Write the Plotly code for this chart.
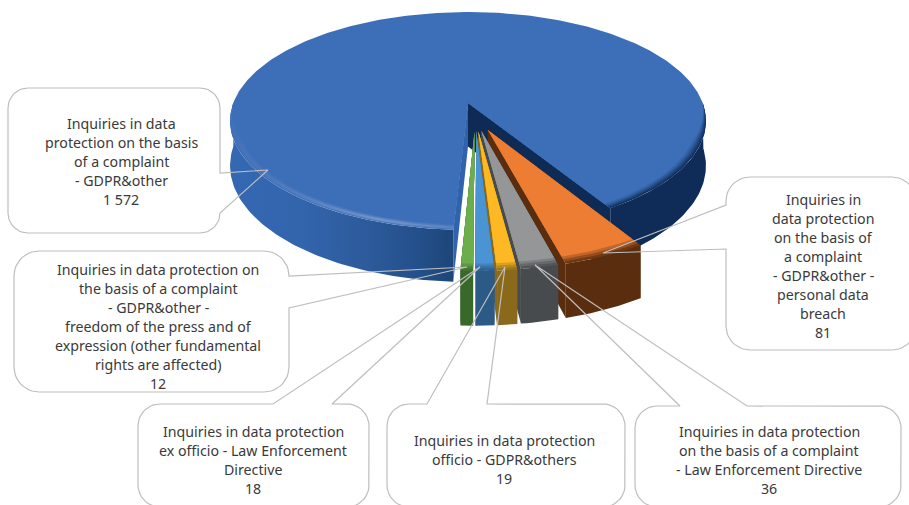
import numpy as np
import plotly.graph_objects as go

# Complaint and ex officio inquiries, smallest slices listed left to right
categories = [
    "freedom of the press and of expression",
    "ex officio - Law Enforcement Directive",
    "officio - GDPR&others",
    "complaint - Law Enforcement Directive",
    "complaint - GDPR&other - personal data breach",
    "complaint - GDPR&other",
]
values = [12, 18, 19, 36, 81, 1572]

label_lines = [
    ["Inquiries in data protection on", "the basis of a complaint", "- GDPR&other -",
     "freedom of the press and of", "expression (other fundamental", "rights are affected)", "12"],
    ["Inquiries in data protection", "ex officio - Law Enforcement", "Directive", "18"],
    ["Inquiries in data protection", "officio - GDPR&others", "19"],
    ["Inquiries in data protection", "on the basis of a complaint", "- Law Enforcement Directive", "36"],
    ["Inquiries in", "data protection", "on the basis of", "a complaint", "- GDPR&other -",
     "personal data", "breach", "81"],
    ["Inquiries in data", "protection on the basis", "of a complaint", "- GDPR&other", "1 572"],
]

top_colors = ["#6CAE4C", "#4B94D4", "#FDB924", "#949698", "#ED7D33"]
wall_colors = ["#39682B", "#2C5A86", "#8A6A1A", "#484B4D", "#5A2D0E"]
BIG_TOP = "#3C6FB8"

# Perspective projection of the pie plane onto the page
CX, CY, F, G, K = 468.0, 103.0, 234.7, 106.0, 0.165
DEPTH = 43.4
START_ANGLE = -3.0
EXPLODE = 0.258
FONT = "Noto Sans"
FONT_SIZE = 14.2
LINE_GAP = 19.0
LINE_COLOR = "#BEBEBE"


def project(x, y, drop=False):
    w = 1 - K * y
    px = CX + F * x / w
    py = CY + G * y / w
    if drop:
        py = py + DEPTH / w
    return px, py


def arc(a0, a1, radius=1.0, off=(0.0, 0.0), drop=False, step=1.0):
    n = max(2, int(abs(a1 - a0) / step) + 1)
    th = np.radians(np.linspace(a0, a1, n))
    r = radius(np.degrees(th)) if callable(radius) else radius
    return project(off[0] + r * np.sin(th), off[1] + r * np.cos(th), drop)


def mix(c1, c2, t):
    a = [int(c1[i:i + 2], 16) for i in (1, 3, 5)]
    b = [int(c2[i:i + 2], 16) for i in (1, 3, 5)]
    return "#%02X%02X%02X" % tuple(round(p + (q - p) * t) for p, q in zip(a, b))


fig = go.Figure()


def poly(xs, ys, color=None, gradient=None):
    kw = dict(fillgradient=gradient) if gradient else dict(fillcolor=color)
    fig.add_trace(go.Scatter(x=list(xs), y=list(ys), mode="lines", fill="toself",
                             line=dict(width=0), hoverinfo="skip", showlegend=False, **kw))


def hgrad(stops, x0=230.0, x1=710.0):
    scale = [[(x - x0) / (x1 - x0), c] for x, c in stops]
    return dict(type="horizontal", start=x0, stop=x1, colorscale=scale)


def sector(a0, a1, radius=1.0, off=(0.0, 0.0)):
    ax, ay = project(off[0], off[1])
    xs, ys = arc(a0, a1, radius, off)
    return np.r_[ax, xs, ax], np.r_[ay, ys, ay]


def wall(a0, a1, off=(0.0, 0.0)):
    xs, ys = arc(a0, a1, 1.0, off)
    xb, yb = arc(a0, a1, 1.0, off, drop=True)
    return np.r_[xs, xb[::-1]], np.r_[ys, yb[::-1]]


def radial(angle, off=(0.0, 0.0)):
    ax, ay = project(off[0], off[1])
    bx, by = project(off[0], off[1], drop=True)
    xs, ys = arc(angle, angle, 1.0, off)
    xb, yb = arc(angle, angle, 1.0, off, drop=True)
    return [ax, xs[0], xb[0], bx, ax], [ay, ys[0], yb[0], by, ay]


# Angular extent of every slice, clockwise from the front of the pie
total = sum(values)
spans = [v / total * 360 for v in values]
edges = START_ANGLE + np.r_[0, np.cumsum(spans)]
big_a0, big_a1 = edges[5], edges[6]

# Large slice: cut faces and outer wall
xs, ys = radial(big_a1)
poly(xs, ys, "#2F63AC")
xs, ys = radial(big_a0)
poly(xs, ys, "#0E2B55")

NAVY = "#0E2C57"
front_stops = [(230, "#3468B2"), (300, "#3365AD"), (370, "#2C5A9A"), (420, "#234F8A"),
               (453, "#1D4679"), (710, "#1D4679")]
xs, ys = wall(270, big_a1)
poly(xs, ys, gradient=hgrad(front_stops))
xs, ys = wall(big_a0, 90)
poly(xs, ys, NAVY)


def taper(th):
    t = np.where(th < 180, np.clip((90 - th) / 22, 0, 1), np.clip((th - 270) / 22, 0, 1))
    return t


RIM = 0.036


def big_radius(u):
    return lambda th: 1 - u * RIM * taper(th)


# Bevel along the rim of the large slice, brightest at the front left
glow = [(230, "#4471B8"), (300, "#5680C2"), (380, "#7898CC"), (453, "#5C84C0"), (710, "#5C84C0")]
left_weights = [0.25, 0.75, 1.0, 0.55, 0.2]
right_weights = [0.92, 0.72, 0.5, 0.3, 0.12]
n_rings = len(left_weights)
for i in range(n_rings):
    radius = big_radius(i / n_rings)
    stops = [(x, mix(BIG_TOP, c, left_weights[i])) for x, c in glow]
    xs, ys = sector(270, big_a1, radius)
    poly(xs, ys, gradient=hgrad(stops))
    xs, ys = sector(big_a0, 90, radius)
    poly(xs, ys, mix(BIG_TOP, NAVY, right_weights[i]))
xs, ys = sector(big_a0, big_a1, big_radius(1.0))
poly(xs, ys, BIG_TOP)

# Exploded slices, drawn from the rightmost towards the viewer's left
for i in [4, 3, 2, 1, 0]:
    a0, a1 = edges[i], edges[i + 1]
    mid = (a0 + a1) / 2
    direction = np.radians(6.8 + 0.5 * mid)
    off = (EXPLODE * np.sin(direction), EXPLODE * np.cos(direction))
    top, side = top_colors[i], wall_colors[i]
    for ang in (a1, a0):
        xs, ys = radial(ang, off)
        poly(xs, ys, side)
    xs, ys = wall(a0, a1, off)
    poly(xs, ys, side)
    for u, t in [(1.0, 0.85), (0.985, 0.6), (0.97, 0.3)]:
        xs, ys = sector(a0, a1, u, off)
        poly(xs, ys, mix(top, side, t))
    xs, ys = sector(a0, a1, 0.955, off)
    poly(xs, ys, top)

# Callout boxes: left, top, right, bottom, corner radius, pointer base, pointer tip
callouts = [
    dict(box=(14, 251, 289, 392), r=25, side="right", base=((289, 276), (289, 308)), tip=(467, 267),
         text=(158, 326)),
    dict(box=(138, 404, 369, 507), r=22, side="top", base=((273, 404), (332, 404)), tip=(480, 267),
         text=(253, 459.5)),
    dict(box=(387, 404, 625, 507), r=22, side="top", base=((427, 404), (487, 404)), tip=(505, 267),
         text=(504, 459)),
    dict(box=(635, 406, 901, 507), r=22, side="top", base=((680, 406), (747, 406)), tip=(535, 265),
         text=(769, 459.5)),
    dict(box=(726, 177, 916, 350), r=24, side="left", base=((726, 249), (726, 205)), tip=(603, 253),
         text=(823, 266)),
    dict(box=(8, 88, 220, 233), r=20, side="right", base=((220, 173), (220, 213)), tip=(268, 170),
         text=(121, 161.5)),
]


def corner(cx, cy, r, a0, a1):
    th = np.radians(np.linspace(a0, a1, 12))
    return list(cx + r * np.cos(th)), list(cy + r * np.sin(th))


for spec, lines in zip(callouts, label_lines):
    l, t, rgt, b = spec["box"]
    r = spec["r"]
    px, py = [spec["base"][0][0], spec["tip"][0], spec["base"][1][0]], \
             [spec["base"][0][1], spec["tip"][1], spec["base"][1][1]]
    xs, ys = [], []
    # Walk the outline clockwise, inserting the pointer on its side
    cx, cy = corner(l + r, t + r, r, 180, 270)
    xs += cx
    ys += cy
    if spec["side"] == "top":
        xs += px
        ys += py
    cx, cy = corner(rgt - r, t + r, r, 270, 360)
    xs += cx
    ys += cy
    if spec["side"] == "right":
        xs += px
        ys += py
    cx, cy = corner(rgt - r, b - r, r, 0, 90)
    xs += cx
    ys += cy
    cx, cy = corner(l + r, b - r, r, 90, 180)
    xs += cx
    ys += cy
    if spec["side"] == "left":
        xs += px
        ys += py
    xs.append(xs[0])
    ys.append(ys[0])
    fig.add_trace(go.Scatter(x=xs, y=ys, mode="lines", line=dict(color=LINE_COLOR, width=1.2),
                             hoverinfo="skip", showlegend=False))
    tx, ty = spec["text"]
    for k, line in enumerate(lines):
        fig.add_annotation(x=tx, y=ty + (k - (len(lines) - 1) / 2) * LINE_GAP, text=line,
                           showarrow=False, xanchor="center", yanchor="middle",
                           font=dict(family=FONT, size=FONT_SIZE, color="#3A3A3A"))

fig.update_layout(
    width=909, height=505, margin=dict(l=0, r=0, t=0, b=0),
    paper_bgcolor="white", plot_bgcolor="white", showlegend=False,
    xaxis=dict(range=[0, 909], visible=False, fixedrange=True),
    yaxis=dict(range=[505, 0], visible=False, fixedrange=True),
)
fig.write_html("out.html", config=dict(displayModeBar=False))
